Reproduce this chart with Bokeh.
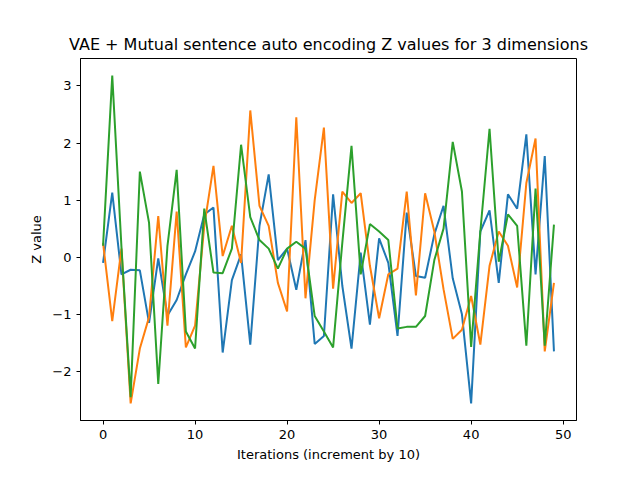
from bokeh.plotting import figure
from bokeh.models import Range1d, FixedTicker
from bokeh.embed import file_html
from bokeh.resources import INLINE

iterations = list(range(50))
z_dim1 = [-0.1, 1.13, -0.3, -0.22, -0.23, -1.15, -0.02, -1.02, -0.75, -0.3,
          0.1, 0.75, 0.87, -1.67, -0.4, 0.05, -1.53, 0.55, 1.45, -0.05,
          0.15, -0.57, 0.3, -1.52, -1.38, 1.1, -0.5, -1.6, 0.08, -1.18,
          0.33, -0.1, -1.38, 0.78, -0.33, -0.36, 0.4, 0.9, -0.37, -1.0,
          -2.56, 0.45, 0.82, -0.45, 1.1, 0.85, 2.15, -0.3, 1.77, -1.65]
z_dim2 = [0.25, -1.12, 0.15, -2.56, -1.6, -1.05, 0.72, -1.2, 0.8, -1.58,
          -1.2, 0.55, 1.6, 0.02, 0.55, -0.1, 2.57, 0.9, 0.55, -0.45,
          -0.95, 2.45, -0.72, 1.0, 2.27, -0.55, 1.15, 0.95, 1.12, -0.15,
          -1.07, -0.3, -0.2, 1.15, -0.67, 1.12, 0.45, -0.56, -1.43, -1.27,
          -0.68, -1.53, -0.15, 0.45, 0.2, -0.53, 1.3, 2.08, -1.65, -0.45]
z_dim3 = [0.2, 3.18, 0.18, -2.45, 1.5, 0.6, -2.22, 0.2, 1.53, -1.3,
          -1.6, 0.85, -0.27, -0.28, 0.15, 1.97, 0.7, 0.3, 0.15, -0.2,
          0.15, 0.27, 0.15, -1.03, -1.3, -1.58, 0.25, 1.95, -0.3, 0.58,
          0.45, 0.3, -1.25, -1.22, -1.22, -1.03, -0.05, 0.5, 2.02, 1.15,
          -1.57, 0.45, 2.25, -0.08, 0.75, 0.55, -1.55, 1.2, -1.55, 0.57]
colors = ["#1f77b4", "#ff7f0e", "#2ca02c"]

p = figure(width=624, height=464, output_backend="svg", toolbar_location=None,
           title="VAE + Mutual sentence auto encoding Z values for 3 dimensions",
           x_range=Range1d(-2.45, 51.45), y_range=Range1d(-2.86, 3.48),
           min_border_left=80, min_border_right=48, min_border_top=58, min_border_bottom=37)

for series, c in zip([z_dim1, z_dim2, z_dim3], colors):
    p.line(iterations, series, line_color=c, line_width=2)

p.title.align = "center"
p.title.text_font = "DejaVu Sans"
p.title.text_font_size = "16px"
p.title.text_font_style = "normal"
p.title.text_color = "black"
p.xgrid.visible = False
p.ygrid.visible = False
p.outline_line_color = "black"
p.xaxis.ticker = FixedTicker(ticks=[0, 10, 20, 30, 40, 50])
p.yaxis.ticker = FixedTicker(ticks=[-2, -1, 0, 1, 2, 3])
p.xaxis.axis_label = "Iterations (increment by 10)"
p.yaxis.axis_label = "Z value"
for ax in [p.xaxis, p.yaxis]:
    ax.minor_tick_line_color = None
    ax.major_tick_in = 0
    ax.major_tick_out = 4
    ax.major_label_text_font = "DejaVu Sans"
    ax.major_label_text_font_size = "13px"
    ax.major_label_text_color = "black"
    ax.axis_label_text_font = "DejaVu Sans"
    ax.axis_label_text_font_size = "13px"
    ax.axis_label_text_font_style = "normal"
    ax.axis_label_text_color = "black"
    ax.axis_line_color = "black"

open("out.html", "w").write(file_html(p, INLINE))
